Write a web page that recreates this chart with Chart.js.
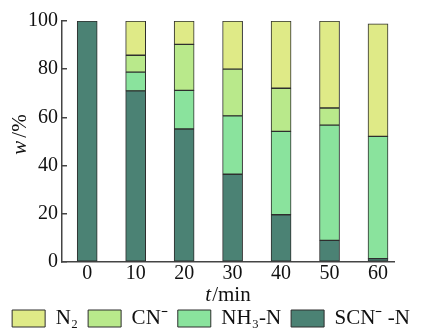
<!DOCTYPE html>
<html>
<head>
<meta charset="utf-8">
<script src="https://cdn.jsdelivr.net/npm/chart.js@4.4.1/dist/chart.umd.min.js"></script>
<style>
  html, body { margin: 0; padding: 0; background: #fff; }
  #wrap { width: 422px; height: 329px; }
</style>
</head>
<body>
<div id="wrap"><canvas id="c"></canvas></div>
<script>
// reaction time, min
const times = [0, 10, 20, 30, 40, 50, 60];
const xTicks = [0, 10, 20, 30, 40, 50, 60];
const yTicks = [0, 20, 40, 60, 80, 100];

// nitrogen distribution, w/%
const seriesNames = ['N₂', 'CN⁻', 'NH₃-N', 'SCN⁻ -N'];
const n2  = [0, 14.2, 9.7, 20.0, 27.9, 36.1, 46.7];
const cn  = [0, 7.0, 19.1, 19.4, 17.9, 7.1, 0];
const nh3 = [0, 7.8, 16.0, 24.2, 34.6, 47.8, 50.7];
const scn = [100, 71.0, 55.2, 36.4, 19.6, 9.0, 1.4];

const colors = ['#dfea87', '#b9e98b', '#8ae39d', '#4b8274'];

const SERIF = '"Liberation Serif", "Times New Roman", serif';
const INK = '#111';
const AXIS = '#444';

const toPoints = (vals) => vals.map((v, i) => ({ x: times[i], y: v }));

function makeSet(label, vals, color) {
  return {
    label,
    data: toPoints(vals),
    backgroundColor: color,
    borderColor: '#2e2e2e',
    borderWidth: 1,
    borderSkipped: false,
    barThickness: 20,
  };
}

// axis titles with an italic symbol followed by an upright unit
const axisTitles = {
  id: 'axisTitles',
  afterDraw(chart) {
    const { ctx, chartArea } = chart;
    const it = 'italic 21px ' + SERIF;
    const up = '21px ' + SERIF;
    ctx.save();
    ctx.fillStyle = INK;
    ctx.textBaseline = 'middle';
    ctx.textAlign = 'left';

    // x: t/min
    ctx.font = it;
    const tw = ctx.measureText('t').width + 1;
    ctx.font = up;
    const uw = ctx.measureText('/min').width;
    let x0 = (chartArea.left + chartArea.right) / 2 - (tw + uw) / 2;
    const yx = chartArea.bottom + 33;
    ctx.font = it;
    ctx.fillText('t', x0, yx);
    ctx.font = up;
    ctx.fillText('/min', x0 + tw, yx);

    // y: w/%
    ctx.translate(20, (chartArea.top + chartArea.bottom) / 2 - 7);
    ctx.rotate(-Math.PI / 2);
    ctx.font = it;
    const ww = ctx.measureText('w').width + 3;
    ctx.font = up;
    const pw = ctx.measureText('/%').width;
    x0 = -(ww + pw) / 2;
    ctx.font = it;
    ctx.fillText('w', x0, 0);
    ctx.font = up;
    ctx.fillText('/%', x0 + ww, 0);
    ctx.restore();
  }
};

function draw() {
  new Chart(document.getElementById('c'), {
    type: 'bar',
    data: {
      datasets: [
        makeSet(seriesNames[3], scn, colors[3]),
        makeSet(seriesNames[2], nh3, colors[2]),
        makeSet(seriesNames[1], cn, colors[1]),
        makeSet(seriesNames[0], n2, colors[0]),
      ],
    },
    options: {
      responsive: true,
      maintainAspectRatio: false,
      animation: false,
      // legend sits tight against the bottom edge
      layout: { padding: { left: 0, right: 0, top: 20, bottom: -10 } },
      plugins: {
        legend: {
          position: 'bottom',
          reverse: true,
          labels: {
            boxWidth: 33,
            boxHeight: 17,
            padding: 10,
            color: INK,
            font: { family: SERIF, size: 21 },
          },
        },
        tooltip: { enabled: false },
      },
      scales: {
        x: {
          type: 'linear',
          stacked: true,
          offset: false,
          min: -5.2,
          max: 63.3,
          afterBuildTicks: (s) => { s.ticks = xTicks.map((v) => ({ value: v })); },
          afterFit: (s) => { s.height = 36; },
          grid: { display: false, drawTicks: false, offset: false },
          border: { display: true, color: AXIS, width: 1.5 },
          ticks: {
            padding: 0,
            maxRotation: 0,
            color: INK,
            font: { family: SERIF, size: 20 },
          },
        },
        y: {
          stacked: true,
          min: 0,
          max: 100,
          afterBuildTicks: (s) => { s.ticks = yTicks.map((v) => ({ value: v })); },
          afterFit: (s) => { s.width = 62; },
          grid: { drawOnChartArea: false, tickLength: -5, color: AXIS, lineWidth: 1.5 },
          border: { color: AXIS, width: 1.5 },
          ticks: {
            padding: 9,
            color: INK,
            font: { family: SERIF, size: 20 },
          },
        },
        // blank right margin so the legend keeps the full width
        gutter: {
          type: 'linear',
          position: 'right',
          afterFit: (s) => { s.width = 28; },
          grid: { display: false },
          border: { display: false },
          ticks: { display: false },
        },
      },
    },
    plugins: [axisTitles],
  });
}

Promise.all([
  document.fonts.load('20px "Liberation Serif"'),
  document.fonts.load('italic 21px "Liberation Serif"'),
]).then(draw, draw);
</script>
</body>
</html>
